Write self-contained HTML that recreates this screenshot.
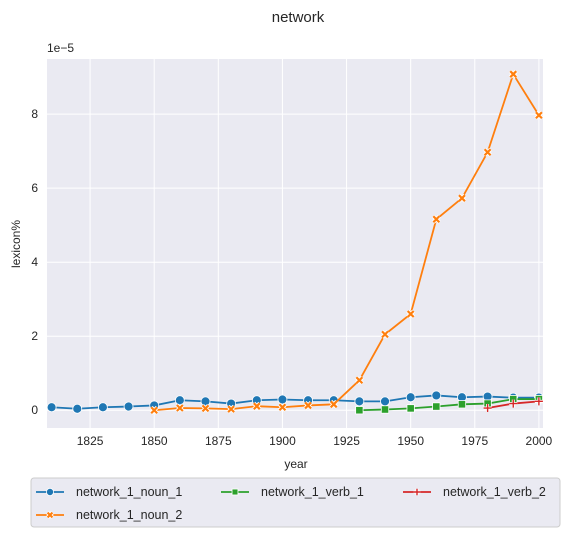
<!DOCTYPE html>
<html><head><meta charset="utf-8"><style>
body{margin:0;background:#fff;font-family:"Liberation Sans",Arial,sans-serif;}
svg text{font-family:"Liberation Sans",Arial,sans-serif;fill:#262626;}
</style></head><body>
<svg id="chart" width="570" height="537">
<text x="298" y="22" font-size="15" text-anchor="middle">network</text>
<rect x="47" y="59" width="496" height="369" fill="#eaeaf2"/>
<g id="grid"></g>
<g id="series"></g>
<g id="ticks"></g>
<text x="47" y="52" font-size="12">1e−5</text>
<text x="296" y="468" font-size="12" text-anchor="middle">year</text>
<text transform="translate(20,244) rotate(-90)" font-size="12" text-anchor="middle">lexicon%</text>
<g>
<rect x="31" y="478" width="529" height="49" rx="3" fill="#eaeaf2" stroke="#cccccc" stroke-width="1"/>
<g id="legend"></g>
</g>
</svg>
<script>
const years = [1810,1820,1830,1840,1850,1860,1870,1880,1890,1900,1910,1920,1930,1940,1950,1960,1970,1980,1990,2000];
const noun1 = [0.08,0.04,0.08,0.10,0.13,0.27,0.24,0.18,0.27,0.29,0.27,0.27,0.24,0.24,0.35,0.40,0.35,0.37,0.34,0.34];
const noun2Years = [1850,1860,1870,1880,1890,1900,1910,1920,1930,1940,1950,1960,1970,1980,1990,2000];
const noun2 = [0.0,0.06,0.05,0.03,0.11,0.08,0.13,0.16,0.81,2.05,2.6,5.16,5.73,6.97,9.08,7.97];
const verb1Years = [1930,1940,1950,1960,1970,1980,1990,2000];
const verb1 = [0.0,0.02,0.05,0.10,0.16,0.18,0.30,0.30];
const verb2Years = [1980,1990,2000];
const verb2 = [0.06,0.18,0.24];
const xTicks = [1825,1850,1875,1900,1925,1950,1975,2000];
const yTicks = [0,2,4,6,8];

const NS="http://www.w3.org/2000/svg";
const X0=47,X1=543,Y0=428,Y1=59, xmin=1808.2, xmax=2001.6, ymin=-0.48, ymax=9.49;
const xs=v=>X0+(v-xmin)/(xmax-xmin)*(X1-X0);
const ys=v=>Y0-(v-ymin)/(ymax-ymin)*(Y0-Y1);
function mk(t,a,p){const e=document.createElementNS(NS,t);for(const k in a)e.setAttribute(k,a[k]);p.appendChild(e);return e;}
const grid=document.getElementById('grid'),ticks=document.getElementById('ticks');
xTicks.forEach(t=>{
 const l=mk('line',{x1:xs(t),x2:xs(t),y1:Y1,y2:Y0,stroke:'#fff','stroke-width':1},grid);
 
 
 const tx=mk('text',{x:xs(t),y:445,'font-size':12,'text-anchor':'middle'},ticks);tx.textContent=t;
 
 
});
yTicks.forEach(t=>{
 const l=mk('line',{x1:X0,x2:X1,y1:ys(t),y2:ys(t),stroke:'#fff','stroke-width':1},grid);
 
 
 const tx=mk('text',{x:38,y:ys(t)+4,'font-size':12,'text-anchor':'end'},ticks);tx.textContent=t;
 
 
});
function marker(type,x,y,c,p,s){
 s=s||1;
 if(type==='o')return mk('circle',{cx:x,cy:y,r:4.5*s,fill:c,stroke:'#fff','stroke-width':0.8},p);
 if(type==='s')return mk('rect',{x:x-3.7*s,y:y-3.7*s,width:7.4*s,height:7.4*s,fill:c,stroke:'#fff','stroke-width':0.8},p);
 if(type==='x'){const g=mk('g',{},p);const d=3*s;
  mk('path',{d:`M${x-d},${y-d}L${x+d},${y+d}M${x-d},${y+d}L${x+d},${y-d}`,stroke:'#fff','stroke-width':4},g);
  mk('path',{d:`M${x-d},${y-d}L${x+d},${y+d}M${x-d},${y+d}L${x+d},${y-d}`,stroke:c,'stroke-width':2.2},g);return g;}
 if(type==='+'){const g=mk('g',{},p);const d=4*s;
  mk('path',{d:`M${x-d},${y}L${x+d},${y}M${x},${y-d}L${x},${y+d}`,stroke:'#fff','stroke-width':3},g);
  mk('path',{d:`M${x-d},${y}L${x+d},${y}M${x},${y-d}L${x},${y+d}`,stroke:c,'stroke-width':1.4},g);return g;}
}
const series=[
 {name:'network_1_noun_1',xv:years,yv:noun1,c:'#1f77b4',m:'o'},
 {name:'network_1_noun_2',xv:noun2Years,yv:noun2,c:'#ff7f0e',m:'x'},
 {name:'network_1_verb_1',xv:verb1Years,yv:verb1,c:'#2ca02c',m:'s'},
 {name:'network_1_verb_2',xv:verb2Years,yv:verb2,c:'#d62728',m:'+'}
];
const sg=document.getElementById('series');
series.forEach(s=>{
 const g=mk('g',{},sg);
 
 
 const pts=s.xv.map((x,i)=>xs(x)+','+ys(s.yv[i])).join(' ');
 const pl=mk('polyline',{points:pts,fill:'none',stroke:s.c,'stroke-width':1.8},g);
 
 
 s.xv.forEach((x,i)=>{const m=marker(s.m,xs(x),ys(s.yv[i]),s.c,g);
  
  });
});
const lg=document.getElementById('legend');
const pos=[[36,496],[36,519],[221,496],[403,496]];
series.forEach((s,i)=>{
 const [x,y]=pos[i];
 const g=mk('g',{},lg);
 
 
 mk('line',{x1:x,x2:x+28,y1:y-4,y2:y-4,stroke:s.c,'stroke-width':1.8},g);
 marker(s.m,x+14,y-4,s.c,g,0.8);
 const t=mk('text',{x:x+40,y:y,'font-size':12.5},g);t.textContent=s.name;
});
</script>
</body></html>
